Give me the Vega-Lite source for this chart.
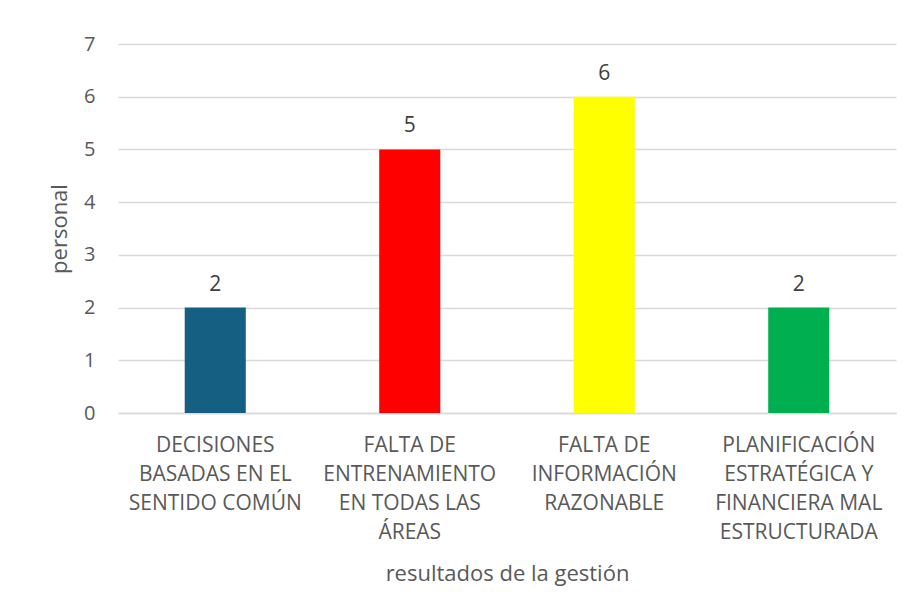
{
  "$schema": "https://vega.github.io/schema/vega-lite/v6.json",
  "width": 778,
  "height": 369,
  "autosize": {"type": "none"},
  "padding": {"left": 118, "top": 44, "right": 13, "bottom": 197},
  "background": "white",
  "config": {
    "font": "Open Sans",
    "view": {"stroke": null}
  },
  "data": {
    "values": [
      {"categoria": "DECISIONES|BASADAS EN EL|SENTIDO COMÚN", "valor": 2, "color": "#156082"},
      {"categoria": "FALTA DE|ENTRENAMIENTO|EN TODAS LAS|ÁREAS", "valor": 5, "color": "#FF0000"},
      {"categoria": "FALTA DE|INFORMACIÓN|RAZONABLE", "valor": 6, "color": "#FFFF00"},
      {"categoria": "PLANIFICACIÓN|ESTRATÉGICA Y|FINANCIERA MAL|ESTRUCTURADA", "valor": 2, "color": "#00B050"}
    ]
  },
  "encoding": {
    "x": {
      "field": "categoria",
      "type": "nominal",
      "sort": null,
      "scale": {"paddingInner": 0.686, "paddingOuter": 0.343},
      "axis": {
        "title": "resultados de la gestión",
        "labelExpr": "split(datum.label, '|')",
        "labelAngle": 0,
        "labelFontSize": 21,
        "labelColor": "#595959",
        "labelLineHeight": 29,
        "labelPadding": 21,
        "labelLimit": 300,
        "ticks": false,
        "domainColor": "#D9D9D9",
        "domainWidth": 1.5,
        "titleFontSize": 22,
        "titleFontWeight": "normal",
        "titleColor": "#595959",
        "titlePadding": 21
      }
    },
    "y": {
      "field": "valor",
      "type": "quantitative",
      "scale": {"domain": [0, 7]},
      "axis": {
        "title": "personal",
        "values": [0, 1, 2, 3, 4, 5, 6, 7],
        "labelFontSize": 20,
        "labelColor": "#595959",
        "labelPadding": 23,
        "ticks": false,
        "domain": false,
        "gridColor": "#D9D9D9",
        "gridWidth": 1.5,
        "titleFontSize": 22,
        "titleFontWeight": "normal",
        "titleColor": "#595959",
        "titlePadding": 12
      }
    }
  },
  "layer": [
    {
      "mark": {"type": "bar"},
      "encoding": {
        "color": {"field": "color", "type": "nominal", "scale": null, "legend": null}
      }
    },
    {
      "mark": {"type": "text", "baseline": "bottom", "dy": -13, "fontSize": 21, "color": "#404040"},
      "encoding": {
        "text": {"field": "valor", "type": "quantitative"}
      }
    }
  ]
}
